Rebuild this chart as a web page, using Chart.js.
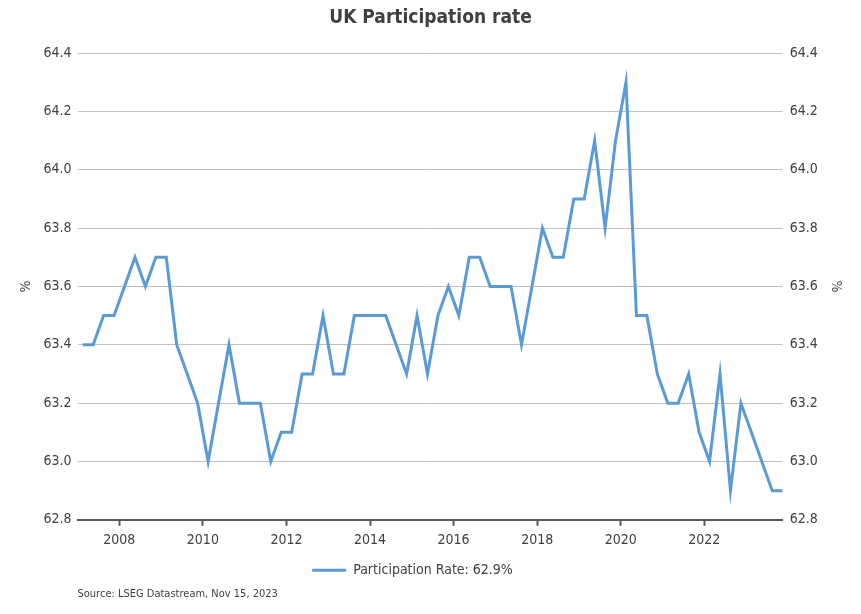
<!DOCTYPE html>
<html>
<head>
<meta charset="utf-8">
<script src="https://cdn.jsdelivr.net/npm/chart.js@4/dist/chart.umd.min.js"></script>
<style>
  html, body { margin: 0; padding: 0; background: #ffffff; }
  #wrap { width: 861px; height: 614px; position: relative; }
</style>
</head>
<body>
<div id="wrap"><canvas id="c" width="861" height="614"></canvas></div>
<script>
const chartTitle = "UK Participation rate";
const sourceText = "Source: LSEG Datastream, Nov 15, 2023";
const seriesName = "Participation Rate: 62.9%";
const yAxisTitle = "%";

const dates = [
  "2007-02","2007-05","2007-08","2007-11",
  "2008-02","2008-05","2008-08","2008-11",
  "2009-02","2009-05","2009-08","2009-11",
  "2010-02","2010-05","2010-08","2010-11",
  "2011-02","2011-05","2011-08","2011-11",
  "2012-02","2012-05","2012-08","2012-11",
  "2013-02","2013-05","2013-08","2013-11",
  "2014-02","2014-05","2014-08","2014-11",
  "2015-02","2015-05","2015-08","2015-11",
  "2016-02","2016-05","2016-08","2016-11",
  "2017-02","2017-05","2017-08","2017-11",
  "2018-02","2018-05","2018-08","2018-11",
  "2019-02","2019-05","2019-08","2019-11",
  "2020-02","2020-05","2020-08","2020-11",
  "2021-02","2021-05","2021-08","2021-11",
  "2022-02","2022-05","2022-08","2022-11",
  "2023-02","2023-05","2023-08","2023-11"
];

const participationRate = [
  63.4, 63.4, 63.5, 63.5,
  63.6, 63.7, 63.6, 63.7,
  63.7, 63.4, 63.3, 63.2,
  63.0, 63.2, 63.4, 63.2,
  63.2, 63.2, 63.0, 63.1,
  63.1, 63.3, 63.3, 63.5,
  63.3, 63.3, 63.5, 63.5,
  63.5, 63.5, 63.4, 63.3,
  63.5, 63.3, 63.5, 63.6,
  63.5, 63.7, 63.7, 63.6,
  63.6, 63.6, 63.4, 63.6,
  63.8, 63.7, 63.7, 63.9,
  63.9, 64.1, 63.8, 64.1,
  64.3, 63.5, 63.5, 63.3,
  63.2, 63.2, 63.3, 63.1,
  63.0, 63.3, 62.9, 63.2,
  63.1, 63.0, 62.9, 62.9
];

const xTickYears = [2008, 2010, 2012, 2014, 2016, 2018, 2020, 2022];
const yTickValues = [62.8, 63.0, 63.2, 63.4, 63.6, 63.8, 64.0, 64.2, 64.4];

function dateToYear(s) {
  const [y, m] = s.split("-").map(Number);
  return y + (m - 0.5) / 12;
}

const points = dates.map((d, i) => ({ x: dateToYear(d), y: participationRate[i] }));

const FONT = "'Liberation Sans Narrow', 'Arial Narrow', 'DejaVu Sans Condensed', sans-serif";
const TEXT = "#404040";
const LINE = "#5B9BD5";

const legendShift = {
  id: "legendShift",
  afterLayout(chart) {
    const lg = chart.legend;
    if (lg) {
      lg.left -= 18; lg.right -= 18;
      lg.top += 1.8; lg.bottom += 1.8;
    }
  }
};

const yTicksCfg = {
  font: { family: FONT, size: 14 },
  color: TEXT,
  callback: (v) => Number(v).toFixed(1)
};

new Chart(document.getElementById("c"), {
  type: "line",
  data: {
    datasets: [{
      label: seriesName,
      data: points,
      borderColor: LINE,
      backgroundColor: LINE,
      borderWidth: 3,
      pointRadius: 0,
      tension: 0,
      yAxisID: "y"
    }]
  },
  options: {
    responsive: false,
    animation: false,
    events: [],
    layout: { padding: 0 },
    scales: {
      x: {
        type: "linear",
        min: 2007,
        max: 2023.875,
        afterBuildTicks: (s) => { s.ticks = xTickYears.map(v => ({ value: v })); },
        ticks: {
          font: { family: FONT, size: 14 },
          color: TEXT,
          padding: 6,
          maxRotation: 0,
          autoSkip: false,
          callback: (v) => String(v)
        },
        grid: {
          drawOnChartArea: false,
          drawTicks: true,
          tickLength: 6,
          tickWidth: 2,
          tickColor: "#595959"
        },
        border: { display: true, color: "#595959", width: 2 }
      },
      y: {
        type: "linear",
        position: "left",
        min: 62.8,
        max: 64.4,
        afterBuildTicks: (s) => { s.ticks = yTickValues.map(v => ({ value: v })); },
        afterFit: (s) => { s.width = 77.5; },
        ticks: Object.assign({ padding: 6 }, yTicksCfg),
        grid: { color: "#C0C0C0", lineWidth: 1, drawTicks: false },
        border: { display: false },
        title: {
          display: true,
          text: yAxisTitle,
          font: { family: FONT, size: 14 },
          color: TEXT,
          padding: { top: 18, bottom: 0 }
        }
      },
      y2: {
        type: "linear",
        position: "right",
        min: 62.8,
        max: 64.4,
        afterBuildTicks: (s) => { s.ticks = yTickValues.map(v => ({ value: v })); },
        afterFit: (s) => { s.width = 78.3; },
        ticks: Object.assign({ padding: 7 }, yTicksCfg),
        grid: { display: false, drawTicks: false },
        border: { display: false },
        title: {
          display: true,
          text: yAxisTitle,
          font: { family: FONT, size: 14 },
          color: TEXT,
          padding: { top: 17, bottom: 0 }
        }
      }
    },
    plugins: {
      title: {
        display: true,
        text: chartTitle,
        color: TEXT,
        font: { family: FONT, size: 19, weight: "bold" },
        padding: { top: 7, bottom: 23.3 }
      },
      legend: {
        display: true,
        position: "bottom",
        labels: {
          color: TEXT,
          font: { family: FONT, size: 14 },
          usePointStyle: true,
          pointStyle: "line",
          pointStyleWidth: 34,
          boxWidth: 34,
          padding: 6.8
        }
      },
      subtitle: {
        display: true,
        text: sourceText,
        position: "bottom",
        align: "start",
        fullSize: false,
        color: TEXT,
        font: { family: FONT, size: 11 },
        padding: { top: 2, bottom: 13.4 }
      },
      tooltip: { enabled: false }
    }
  },
  plugins: [legendShift]
});
</script>
</body>
</html>
